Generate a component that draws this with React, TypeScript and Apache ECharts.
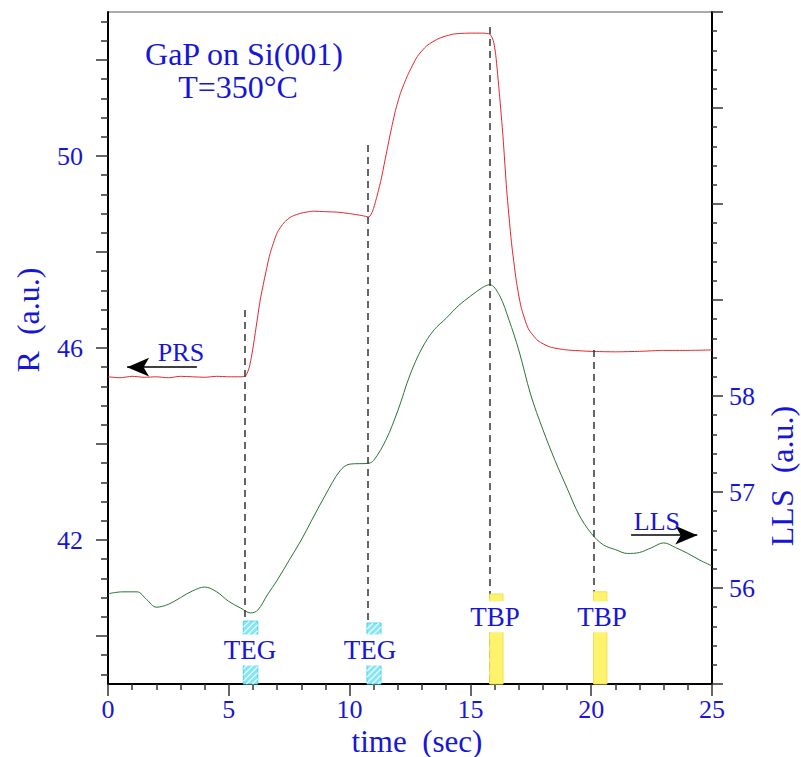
import React, { useEffect, useRef } from "react";
import * as echarts from "echarts";

const FONT = '"Liberation Serif", "Times New Roman", Times, serif';
const BLUE = "#1616d8";

// Reflectance (PRS) signal, left axis R (a.u.)
const redTime = [0, 0.5, 1, 1.5, 2, 2.5, 3, 3.5, 4, 4.5, 5, 5.5, 5.7, 5.85, 6.0, 6.15, 6.3, 6.5, 6.7, 7.0, 7.3, 7.6, 8.0, 8.5, 9, 9.5, 10, 10.5, 10.8, 10.95, 11.1, 11.3, 11.5, 11.7, 11.9, 12.1, 12.4, 12.8, 13.2, 13.7, 14.3, 15, 15.5, 15.8, 15.95, 16.05, 16.2, 16.35, 16.5, 16.7, 16.9, 17.1, 17.4, 17.8, 18.3, 19, 20, 21, 22, 23, 24, 25];
const redR = [45.40, 45.38, 45.41, 45.39, 45.40, 45.38, 45.41, 45.40, 45.39, 45.41, 45.40, 45.40, 45.42, 45.6, 46.0, 46.5, 47.0, 47.5, 47.95, 48.4, 48.62, 48.74, 48.81, 48.85, 48.84, 48.83, 48.80, 48.76, 48.73, 48.85, 49.1, 49.5, 50.0, 50.5, 50.95, 51.3, 51.68, 52.07, 52.3, 52.45, 52.54, 52.56, 52.56, 52.54, 52.4, 52.1, 51.3, 50.4, 49.3, 48.2, 47.4, 46.85, 46.4, 46.15, 46.02, 45.96, 45.93, 45.92, 45.93, 45.95, 45.95, 45.96];

// Laser light scattering (LLS) signal, right axis
const greenTime = [0, 0.6, 1.2, 1.6, 2, 2.5, 3, 3.5, 4, 4.5, 5, 5.5, 5.9, 6.2, 6.6, 7, 7.5, 8, 8.4, 9, 9.6, 10, 10.8, 11, 11.5, 12, 12.5, 13, 13.5, 14, 14.5, 15, 15.5, 15.8, 16.2, 16.6, 17, 17.5, 18, 18.5, 19, 19.5, 20, 20.5, 21, 21.5, 22, 22.5, 23, 23.5, 24, 24.5, 25];
const greenLLS = [55.94, 55.96, 55.96, 55.88, 55.80, 55.83, 55.90, 55.97, 56.01, 55.96, 55.86, 55.79, 55.74, 55.77, 55.93, 56.08, 56.29, 56.50, 56.69, 56.97, 57.22, 57.29, 57.30, 57.33, 57.54, 57.85, 58.22, 58.50, 58.69, 58.81, 58.94, 59.04, 59.13, 59.16, 59.05, 58.79, 58.48, 58.01, 57.65, 57.33, 57.04, 56.76, 56.57, 56.45, 56.40, 56.36, 56.37, 56.42, 56.47, 56.42, 56.36, 56.29, 56.23];

// axis ticks and labels
const leftLabelValues = [42, 46, 50];
const leftMajorTicks = [40, 42, 44, 46, 48, 50, 52];
const leftMinorTicks = [39.2, 39.6, 40.4, 40.8, 41.2, 41.6, 42.4, 42.8, 43.2, 43.6, 44.4, 44.8, 45.2, 45.6, 46.4, 46.8, 47.2, 47.6, 48.4, 48.8, 49.2, 49.6, 50.4, 50.8, 51.2, 51.6, 52.4, 52.8];
const rightLabelValues = [56, 57, 58];

// dashed marker lines (time, top R, bottom R)
const dashTime = [5.67, 10.75, 15.8, 20.12];
const dashTop = [46.79, 50.23, 52.69, 45.96];
const dashBottom = [39, 39, 39, 40.92];

// precursor pulse boxes
const boxStart = [5.6, 10.72, 15.8, 20.1];
const boxEnd = [6.2, 11.3, 16.35, 20.65];
const boxTop = [40.31, 40.27, 40.875, 40.92];
const boxName = ["TEG", "TEG", "TBP", "TBP"];
const boxLabelTime = [5.88, 10.84, 16.02, 20.45];
const boxLabelR = [39.71, 39.71, 40.4, 40.4];

// signal arrows
const prsArrow = { from: 3.68, to: 0.79, r: 45.6, labelT: 3.02, labelR: 45.9 };
const llsArrow = { from: 21.65, to: 24.39, v: 56.55, labelT: 22.72, labelV: 56.69 };

export default function App() {
  const ref = useRef<HTMLDivElement>(null);

  useEffect(() => {
    if (!ref.current) return;
    const chart = echarts.init(ref.current, undefined, { renderer: "svg" });

    const tickStyle = { color: "#333", width: 1.5 };
    const axisLineStyle = { color: "#000", width: 2 };
    const labelBase = { color: BLUE, fontFamily: FONT, fontSize: 26 };

    const boxData = boxStart.map((s, i) => [s, boxEnd[i], boxTop[i], boxLabelTime[i], boxLabelR[i]]);

    const option: any = {
      animation: false,
      grid: {
        left: 108,
        right: 89,
        top: 12,
        bottom: 73,
        show: true,
        borderColor: "#555",
        borderWidth: 1,
      },
      xAxis: {
        type: "value",
        min: 0,
        max: 25,
        interval: 5,
        axisLine: { show: true, onZero: false, lineStyle: axisLineStyle },
        axisTick: { show: true, length: 12, lineStyle: tickStyle },
        minorTick: { show: true, splitNumber: 5, length: 6, lineStyle: tickStyle },
        axisLabel: { ...labelBase, margin: 12 },
        splitLine: { show: false },
        minorSplitLine: { show: false },
      },
      yAxis: [
        {
          type: "value",
          position: "left",
          min: 39,
          max: 53,
          axisLine: { show: true, onZero: false, lineStyle: axisLineStyle },
          axisTick: { show: true, length: 12, customValues: leftMajorTicks, lineStyle: tickStyle },
          axisLabel: { ...labelBase, margin: 25, customValues: leftLabelValues },
          splitLine: { show: false },
        },
        {
          type: "value",
          position: "right",
          min: 55,
          max: 62,
          interval: 1,
          axisLine: { show: true, onZero: false, lineStyle: axisLineStyle },
          axisTick: { show: true, length: 11, lineStyle: tickStyle },
          minorTick: { show: true, splitNumber: 5, length: 5, lineStyle: tickStyle },
          axisLabel: {
            ...labelBase,
            margin: 17,
            formatter: (v: number) => (rightLabelValues.indexOf(Math.round(v * 1000) / 1000) >= 0 ? String(v) : ""),
          },
          splitLine: { show: false },
          minorSplitLine: { show: false },
        },
        {
          type: "value",
          position: "left",
          min: 39,
          max: 53,
          axisLine: { show: false },
          axisTick: { show: true, length: 7, customValues: leftMinorTicks, lineStyle: tickStyle },
          axisLabel: { show: false },
          splitLine: { show: false },
        },
      ],
      graphic: [
        { type: "text", x: 244, y: 54, style: { text: "GaP on Si(001)", fill: BLUE, font: `32px ${FONT}`, align: "center", verticalAlign: "middle" } },
        { type: "text", x: 238, y: 87, style: { text: "T=350°C", fill: BLUE, font: `32px ${FONT}`, align: "center", verticalAlign: "middle" } },
        { type: "text", x: 28, y: 320, rotation: Math.PI / 2, style: { text: "R  (a.u.)", fill: BLUE, font: `32px ${FONT}`, align: "center", verticalAlign: "middle" } },
        { type: "text", x: 417, y: 741, style: { text: "time  (sec)", fill: BLUE, font: `31px ${FONT}`, align: "center", verticalAlign: "middle" } },
        { type: "text", x: 782, y: 476, rotation: Math.PI / 2, style: { text: "LLS  (a.u.)", fill: BLUE, font: `32px ${FONT}`, align: "center", verticalAlign: "middle" } },
      ],
      series: [
        {
          name: "PRS",
          type: "line",
          xAxisIndex: 0,
          yAxisIndex: 0,
          showSymbol: false,
          symbol: "none",
          smooth: 0.2,
          data: redTime.map((t, i) => [t, redR[i]]),
          lineStyle: { color: "#e3262d", width: 1 },
          z: 3,
          markLine: {
            silent: true,
            symbol: ["none", "none"],
            label: { show: false },
            lineStyle: { color: "#333", type: [7, 5], width: 1.5 },
            data: [
              ...dashTime.map((t, i) => [{ coord: [t, dashTop[i]] }, { coord: [t, dashBottom[i]] }]),
              [
                { coord: [prsArrow.from, prsArrow.r], symbol: "none", lineStyle: { color: "#000", type: "solid", width: 1.5 } },
                { coord: [prsArrow.to, prsArrow.r], symbol: "arrow", symbolSize: [14, 22] },
              ],
            ],
          },
          markPoint: {
            silent: true,
            symbol: "circle",
            symbolSize: 1,
            itemStyle: { color: "rgba(0,0,0,0)" },
            label: { show: true, position: "inside", ...labelBase },
            data: [{ coord: [prsArrow.labelT, prsArrow.labelR], value: "PRS", label: { formatter: "PRS" } }],
          },
        },
        {
          name: "LLS",
          type: "line",
          xAxisIndex: 0,
          yAxisIndex: 1,
          showSymbol: false,
          symbol: "none",
          smooth: 0.35,
          data: greenTime.map((t, i) => [t, greenLLS[i]]),
          lineStyle: { color: "#2a7436", width: 1 },
          z: 3,
          markLine: {
            silent: true,
            symbol: ["none", "arrow"],
            symbolSize: [14, 22],
            label: { show: false },
            lineStyle: { color: "#000", type: "solid", width: 1.5 },
            data: [[{ coord: [llsArrow.from, llsArrow.v] }, { coord: [llsArrow.to, llsArrow.v] }]],
          },
          markPoint: {
            silent: true,
            symbol: "circle",
            symbolSize: 1,
            itemStyle: { color: "rgba(0,0,0,0)" },
            label: { show: true, position: "inside", ...labelBase },
            data: [{ coord: [llsArrow.labelT, llsArrow.labelV], value: "LLS", label: { formatter: "LLS" } }],
          },
        },
        {
          name: "pulses",
          type: "custom",
          xAxisIndex: 0,
          yAxisIndex: 0,
          z: 5,
          silent: true,
          data: boxData,
          encode: { x: [0, 1, 3], y: [2, 4] },
          renderItem: (params: any, api: any) => {
            const i = params.dataIndex;
            const p0 = api.coord([api.value(0), api.value(2)]);
            const p1 = api.coord([api.value(1), 39]);
            const x = p0[0];
            const y = p0[1];
            const w = p1[0] - p0[0];
            const h = p1[1] - p0[1];
            const isTEG = boxName[i] === "TEG";
            const children: any[] = [
              {
                type: "rect",
                shape: { x, y, width: w, height: h },
                style: isTEG
                  ? { fill: "#86e6f4", stroke: "#4cd2e6", lineWidth: 1 }
                  : { fill: "#fff36e", stroke: "#f0e04a", lineWidth: 1 },
              },
            ];
            if (isTEG) {
              const step = 6;
              for (let k = -h; k < w; k += step) {
                let sx = x + k;
                let sy = y + h;
                if (k < 0) {
                  sx = x;
                  sy = y + h + k;
                }
                let ex = x + k + h;
                let ey = y;
                if (k + h > w) {
                  ex = x + w;
                  ey = y + (k + h - w);
                }
                children.push({
                  type: "line",
                  shape: { x1: sx, y1: sy, x2: ex, y2: ey },
                  style: { stroke: "rgba(255,255,255,0.85)", lineWidth: 1.2 },
                });
              }
            }
            const lp = api.coord([api.value(3), api.value(4)]);
            children.push({
              type: "text",
              x: lp[0],
              y: lp[1],
              style: {
                text: boxName[i],
                fill: BLUE,
                fontFamily: FONT,
                fontSize: 27,
                align: "center",
                verticalAlign: "middle",
                backgroundColor: "#fff",
                padding: [2, 1],
              },
            });
            return { type: "group", children };
          },
        },
      ],
    };

    chart.setOption(option);
    return () => chart.dispose();
  }, []);

  return <div ref={ref} style={{ position: "absolute", left: 0, top: 0, width: 801, height: 757 }} />;
}
